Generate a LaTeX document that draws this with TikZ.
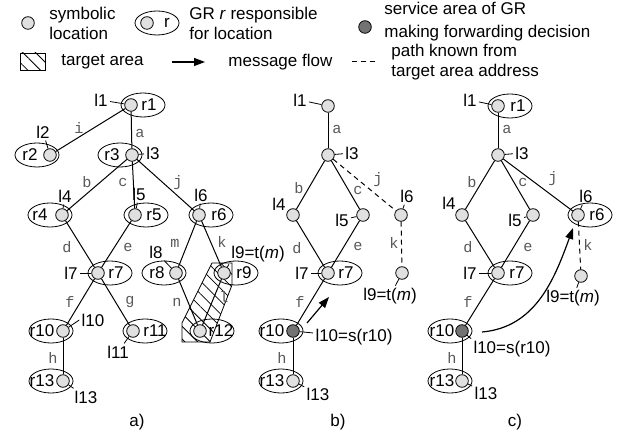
\documentclass[tikz,border=0pt]{standalone}
\usepackage{fontspec}
\setmainfont{Liberation Sans}
\setmonofont{Liberation Mono}
\usetikzlibrary{shapes.geometric,arrows.meta,patterns.meta}

\begin{document}
\begin{tikzpicture}[x=0.5pt,y=-0.5pt,
  loc/.style={circle,draw,line width=0.4pt,fill=black!12,minimum size=6.3pt,inner sep=0pt},
  fwd/.style={loc,fill=black!55},
  gr/.style={ellipse,draw,line width=0.4pt,minimum width=22pt,minimum height=12pt,inner sep=0pt},
  txt/.style={font=\fontsize{8.5}{10}\selectfont,inner sep=1pt},
  elab/.style={font=\fontsize{7.6}{8}\ttfamily,text=black!65,inner sep=0pt},
  link/.style={line width=0.5pt},
  known/.style={link,dash pattern=on 2.5pt off 2pt},
  tag/.style={line width=0.4pt},
  flow/.style={line width=0.6pt,-{Triangle[length=5.5pt,width=4pt]}},
  targetarea/.style={draw,line width=0.4pt,pattern={Lines[angle=-45,distance=4.5pt,line width=0.4pt]}}]
\useasboundingbox (0,0) rectangle (630,437);

% legend
\node[loc] (kloc) at (28,23) {};
\node[txt,anchor=west,align=left] (kloctxt) at (47,23) {symbolic\\location};
\node[gr] (kgr) at (157,23) {};
\node[loc] (kgrloc) at (147,23) {};
\node[txt] (kgrr) at (167,23) {r};
\node[txt,anchor=west,align=left] (kgrtxt) at (187,23) {GR \textit{r} responsible\\for location};
\node[fwd] (kfwd) at (365,27) {};
\node[txt,anchor=west,align=left,font=\fontsize{8.5}{11.5}\selectfont] (kfwdtxt) at (382,21.5) {service area of GR\\making forwarding decision};
\path[targetarea] (20,53) rectangle (45,70);
\node[txt,anchor=west] (ktatxt) at (59,62) {target area};
\coordinate (kfa) at (172,62);
\coordinate (kfb) at (205,62);
\draw[flow] (kfa) -- (kfb);
\node[txt,anchor=west] (kfltxt) at (226,62) {message flow};
\coordinate (kka) at (352,62);
\coordinate (kkb) at (377,62);
\draw[known] (kka) -- (kkb);
\node[txt,anchor=west,align=left] (kkntxt) at (389,62) {path known from\\target area address};

% a)
\path[targetarea] (182,323) -- (182,342) -- (210,342) -- (232,285) -- (232,263) -- (212,263) -- cycle;
\node[gr] (ga1) at (143,105) {};
\node[gr] (ga2) at (37,155) {};
\node[gr] (ga3) at (120,155) {};
\node[gr] (ga4) at (50,215) {};
\node[gr] (ga5) at (146,215) {};
\node[gr] (ga6) at (211,215) {};
\node[gr] (ga7) at (110,273) {};
\node[gr] (ga8) at (164,273) {};
\node[gr] (ga9) at (236,273) {};
\node[gr] (ga10) at (51,331) {};
\node[gr] (ga11) at (145,331) {};
\node[gr] (ga12) at (212,331) {};
\node[gr] (ga13) at (51,381) {};
\node[txt] (ra1) at (149,105) {r1};
\node[txt] (ra2) at (30,155) {r2};
\node[txt] (ra3) at (112,155) {r3};
\node[txt] (ra4) at (40,215) {r4};
\node[txt] (ra5) at (154,215) {r5};
\node[txt] (ra6) at (219,215) {r6};
\node[txt] (ra7) at (116,273) {r7};
\node[txt] (ra8) at (157,273) {r8};
\node[txt] (ra9) at (244,273) {r9};
\node[txt] (ra10) at (42,331) {r10};
\node[txt] (ra11) at (155,331) {r11};
\node[txt] (ra12) at (221,331) {r12};
\node[txt] (ra13) at (42,381) {r13};
\node[loc] (a1) at (131,105) {};
\node[loc] (a2) at (50,155) {};
\node[loc] (a3) at (132,155) {};
\node[loc] (a4) at (62,215) {};
\node[loc] (a5) at (135,215) {};
\node[loc] (a6) at (199,215) {};
\node[loc] (a7) at (98,273) {};
\node[loc] (a8) at (176,273) {};
\node[loc] (a9) at (224,273) {};
\node[loc] (a10) at (63,331) {};
\node[loc] (a11) at (133,331) {};
\node[loc] (a12) at (200,331) {};
\node[loc] (a13) at (63,381) {};
\draw[link] (a1) -- (a2);
\draw[link] (a1) -- (a3);
\draw[link] (a3) -- (a4);
\draw[link] (a3) -- (a5);
\draw[link] (a3) -- (a6);
\draw[link] (a4) -- (a7);
\draw[link] (a5) -- (a7);
\draw[link] (a6) -- (a8);
\draw[link] (a6) -- (a9);
\draw[link] (a7) -- (a10);
\draw[link] (a7) -- (a11);
\draw[link] (a8) -- (a12);
\draw[link] (a9) -- (a12);
\draw[link] (a10) -- (a13);
\node[elab] (ea-i) at (79,128) {i};
\node[elab] (ea-a) at (140,133) {a};
\node[elab] (ea-b) at (87,182) {b};
\node[elab] (ea-c) at (123,182) {c};
\node[elab] (ea-j) at (178,183) {j};
\node[elab] (ea-d) at (67,247) {d};
\node[elab] (ea-e) at (128,247) {e};
\node[elab] (ea-m) at (175,243) {m};
\node[elab] (ea-k) at (222,242) {k};
\node[elab] (ea-f) at (70,302) {f};
\node[elab] (ea-g) at (130,302) {g};
\node[elab] (ea-n) at (177,302) {n};
\node[elab] (ea-l) at (224,297) {l};
\node[elab] (ea-h) at (53,358) {h};
\node[txt] (ta1) at (101,100) {l1};
\node[txt] (ta2) at (43,132) {l2};
\node[txt] (ta3) at (153,153) {l3};
\node[txt] (ta4) at (65,196) {l4};
\node[txt] (ta5) at (139,194) {l5};
\node[txt] (ta6) at (201,195) {l6};
\node[txt] (ta7) at (71,273) {l7};
\node[txt] (ta8) at (156,252) {l8};
\node[txt] (ta9) at (258,254) {l9=t(\textit{m})};
\node[txt] (ta10) at (93,320) {l10};
\node[txt] (ta11) at (118,352) {l11};
\node[txt] (ta13) at (86,397) {l13};
\draw[tag] (ta1) -- (a1);
\draw[tag] (ta2) -- (a2);
\draw[tag] (ta3) -- (a3);
\draw[tag] (ta4) -- (a4);
\draw[tag] (ta5) -- (a5);
\draw[tag] (ta6) -- (a6);
\draw[tag] (ta7) -- (a7);
\draw[tag] (ta8) -- (a8);
\draw[tag] (ta9.south west) -- (a9);
\draw[tag] (ta10.west) -- (a10);
\draw[tag] (ta11) -- (a11);
\draw[tag] (ta13) -- (a13);
\node[txt] (capa) at (137,422) {a)};

% b)
\node[gr] (gb7) at (340,273) {};
\node[gr] (gb10) at (281,331) {};
\node[gr] (gb13) at (281,381) {};
\node[txt] (rb7) at (346,273) {r7};
\node[txt] (rb10) at (272,331) {r10};
\node[txt] (rb13) at (272,381) {r13};
\node[loc] (b1) at (328,106) {};
\node[loc] (b3) at (328,155) {};
\node[loc] (b4) at (293,215) {};
\node[loc] (b5) at (363,215) {};
\node[loc] (b6) at (401,215) {};
\node[loc] (b7) at (328,273) {};
\node[loc] (b9) at (402,273) {};
\node[fwd] (b10) at (293,331) {};
\node[loc] (b13) at (293,381) {};
\draw[link] (b1) -- (b3);
\draw[link] (b3) -- (b4);
\draw[link] (b3) -- (b5);
\draw[known] (b3) -- (b6);
\draw[link] (b4) -- (b7);
\draw[link] (b5) -- (b7);
\draw[known] (b6) -- (b9);
\draw[link] (b7) -- (b10);
\draw[link] (b10) -- (b13);
\node[elab] (eb-a) at (337,129) {a};
\node[elab] (eb-b) at (299,188) {b};
\node[elab] (eb-c) at (358,190) {c};
\node[elab] (eb-j) at (378,180) {j};
\node[elab] (eb-d) at (297,248) {d};
\node[elab] (eb-e) at (358,246) {e};
\node[elab] (eb-k) at (394,243) {k};
\node[elab] (eb-f) at (300,302) {f};
\node[elab] (eb-h) at (282,358) {h};
\node[txt] (tb1) at (300,100) {l1};
\node[txt] (tb3) at (352,153) {l3};
\node[txt] (tb4) at (279,204) {l4};
\node[txt] (tb5) at (342,220) {l5};
\node[txt] (tb6) at (407,196) {l6};
\node[txt] (tb7) at (302,273) {l7};
\node[txt] (tb9) at (390,296) {l9=t(\textit{m})};
\node[txt] (tb10) at (354,337) {l10=s(r10)};
\node[txt] (tb13) at (318,394) {l13};
\draw[tag] (tb1) -- (b1);
\draw[tag] (tb3) -- (b3);
\draw[tag] (tb4) -- (b4);
\draw[tag] (tb5) -- (b5);
\draw[tag] (tb6) -- (b6);
\draw[tag] (tb7) -- (b7);
\draw[tag] (tb9) -- (b9);
\draw[tag] (tb10) -- (b10);
\draw[tag] (tb13) -- (b13);
\coordinate (bf0) at (307,323);
\coordinate (bf1) at (329,297);
\draw[flow] (bf0) -- (bf1);
\node[txt] (capb) at (338,422) {b)};

% c)
\node[gr] (gc1) at (510,106) {};
\node[gr] (gc6) at (590,215) {};
\node[gr] (gc7) at (510,273) {};
\node[gr] (gc10) at (450,331) {};
\node[gr] (gc13) at (450,381) {};
\node[txt] (rc1) at (518,106) {r1};
\node[txt] (rc6) at (597,215) {r6};
\node[txt] (rc7) at (517,273) {r7};
\node[txt] (rc10) at (442,331) {r10};
\node[txt] (rc13) at (442,381) {r13};
\node[loc] (c1) at (498,106) {};
\node[loc] (c3) at (498,155) {};
\node[loc] (c4) at (462,215) {};
\node[loc] (c5) at (533,215) {};
\node[loc] (c6) at (578,215) {};
\node[loc] (c7) at (498,273) {};
\node[loc] (c9) at (581,276) {};
\node[fwd] (c10) at (462,331) {};
\node[loc] (c13) at (462,381) {};
\draw[link] (c1) -- (c3);
\draw[link] (c3) -- (c4);
\draw[link] (c3) -- (c5);
\draw[link] (c3) -- (c6);
\draw[link] (c4) -- (c7);
\draw[link] (c5) -- (c7);
\draw[known] (c6) -- (c9);
\draw[link] (c7) -- (c10);
\draw[link] (c10) -- (c13);
\node[elab] (ec-a) at (507,129) {a};
\node[elab] (ec-b) at (472,182) {b};
\node[elab] (ec-c) at (523,182) {c};
\node[elab] (ec-j) at (553,179) {j};
\node[elab] (ec-d) at (468,247) {d};
\node[elab] (ec-e) at (528,247) {e};
\node[elab] (ec-k) at (588,245) {k};
\node[elab] (ec-f) at (468,302) {f};
\node[elab] (ec-h) at (452,358) {h};
\node[txt] (tc1) at (470,100) {l1};
\node[txt] (tc3) at (522,153) {l3};
\node[txt] (tc4) at (449,203) {l4};
\node[txt] (tc5) at (515,220) {l5};
\node[txt] (tc6) at (586,196) {l6};
\node[txt] (tc7) at (470,273) {l7};
\node[txt] (tc9) at (573,298) {l9=t(\textit{m})};
\node[txt] (tc10) at (512,349) {l10=s(r10)};
\node[txt] (tc13) at (486,393) {l13};
\draw[tag] (tc1) -- (c1);
\draw[tag] (tc3) -- (c3);
\draw[tag] (tc4) -- (c4);
\draw[tag] (tc5) -- (c5);
\draw[tag] (tc6) -- (c6);
\draw[tag] (tc7) -- (c7);
\draw[tag] (tc9) -- (c9);
\draw[tag] (tc10.north west) -- (c10);
\draw[tag] (tc13) -- (c13);
\coordinate (cf0) at (482,332);
\coordinate (cf1) at (573,228);
\draw[flow] (cf0) to[out=5,in=250] (cf1);
\node[txt] (capc) at (515,422) {c)};
\end{tikzpicture}
\end{document}
